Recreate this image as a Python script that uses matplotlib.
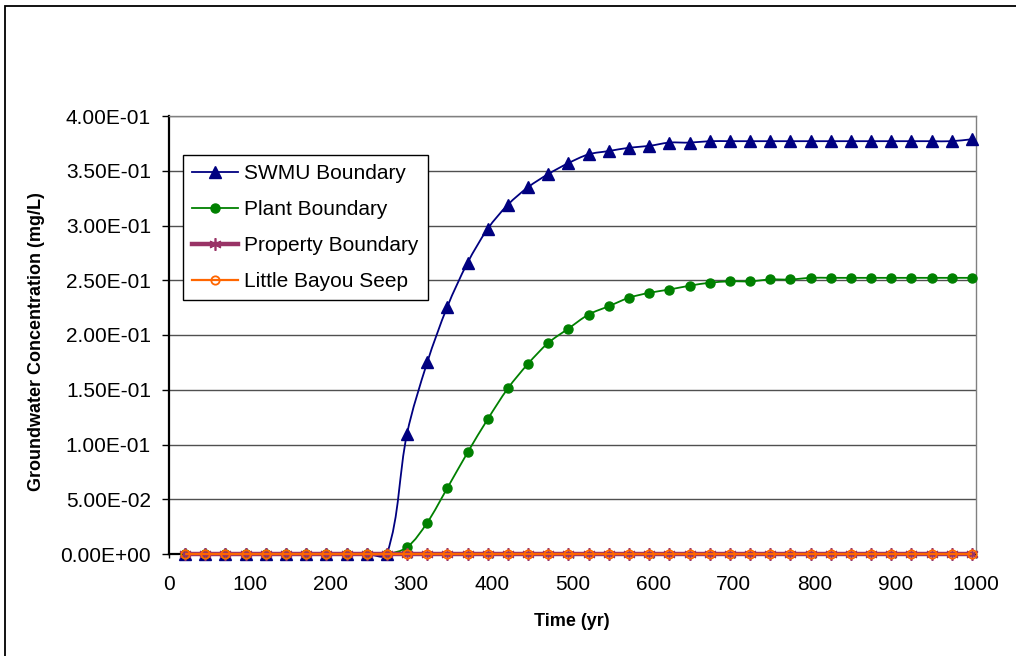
import numpy as np
import matplotlib
matplotlib.use('Agg')
import matplotlib.pyplot as plt
from matplotlib.path import Path
from matplotlib.patches import PathPatch, Rectangle
from matplotlib.lines import Line2D
from matplotlib.ticker import FuncFormatter

plt.rcParams['font.family'] = ['Liberation Sans', 'DejaVu Sans']

# ---------------- data ----------------
time_yr = list(range(20, 1000, 25))  # 40 points
swmu = [0.0] * 11 + [0.110, 0.175, 0.226, 0.266, 0.297, 0.319, 0.335, 0.347, 0.357,
                     0.365, 0.368, 0.371, 0.3727, 0.3757, 0.3757] + [0.377] * 13 + [0.3788]
plant = [0.0] * 11 + [0.0062, 0.0287, 0.0604, 0.0927, 0.1232, 0.1513, 0.1738, 0.1928, 0.2059,
                      0.2187, 0.2263, 0.2340, 0.2385, 0.2415, 0.2450, 0.2477, 0.2490, 0.2490,
                      0.2507, 0.2507] + [0.2522] * 9
prop = [0.0] * 40
seep = [0.0] * 40

labels = ['SWMU Boundary', 'Plant Boundary', 'Property Boundary', 'Little Bayou Seep']
x_ticks = list(range(0, 1001, 100))
y_ticks = [0.0, 0.05, 0.10, 0.15, 0.20, 0.25, 0.30, 0.35, 0.40]

# ---------------- figure ----------------
W, H = 1016, 656
fig = plt.figure(figsize=(W / 100, H / 100), dpi=100)
fig.patch.set_facecolor('white')
ax = fig.add_axes([169 / W, (H - 554) / H, (976 - 169) / W, (554 - 116) / H])
ax.set_xlim(0, 1000)
ax.set_ylim(0, 0.4)
ax.set_xticks(x_ticks)
ax.set_yticks(y_ticks)
ax.yaxis.set_major_formatter(FuncFormatter(lambda v, p: f'{v:.2E}'))
ax.grid(axis='y', color='#505050', lw=1.0)
ax.set_axisbelow(True)
for s in ['left', 'bottom']:
    ax.spines[s].set_color('black')
    ax.spines[s].set_linewidth(1.6)
    ax.spines[s].set_zorder(2)
for s in ['top', 'right']:
    ax.spines[s].set_color('#808080')
    ax.spines[s].set_linewidth(1.0)
ax.tick_params(axis='y', direction='out', length=5, width=1, pad=8, labelsize=15)
ax.tick_params(axis='x', direction='out', length=3, width=1, pad=12, labelsize=15)


def smooth_path(x, y):
    P = ax.transData.transform(np.column_stack([x, y]))
    n = len(P)
    T = np.zeros_like(P)
    T[1:-1] = P[2:] - P[:-2]
    T[0] = P[1] - P[0]
    T[-1] = P[-1] - P[-2]
    nr = np.linalg.norm(T, axis=1)
    U = T / np.where(nr > 0, nr, 1)[:, None]
    verts = [P[0]]
    codes = [Path.MOVETO]
    for i in range(n - 1):
        L = np.linalg.norm(P[i + 1] - P[i])
        c1 = P[i] + U[i] * L / 3
        c2 = P[i + 1] - U[i + 1] * L / 3
        verts += [c1, c2, P[i + 1]]
        codes += [Path.CURVE4] * 3
    verts = ax.transData.inverted().transform(np.array(verts))
    return Path(verts, codes)


styles = [
    dict(color='#000080', lw=1.3, marker='^', ms=8, mfc='#000080', mec='#000080', mew=1),
    dict(color='#008000', lw=1.3, marker='o', ms=6.5, mfc='#008000', mec='#008000', mew=1),
    dict(color='#993366', lw=3.2, marker=(6, 2, 0), ms=9, mfc='#993366', mec='#993366', mew=1.2),
    dict(color='#FF6600', lw=1.6, marker='o', ms=6, mfc='none', mec='#FF6600', mew=1.3),
]
series = [swmu, plant, prop, seep]

handles = []
for k, (yv, st) in enumerate(zip(series, styles)):
    z = 3 + k
    path = smooth_path(time_yr, yv)
    ax.add_patch(PathPatch(path, fill=False, edgecolor=st['color'], lw=st['lw'],
                           zorder=z, clip_on=False, capstyle='butt', joinstyle='round'))
    ax.plot(time_yr, yv, ls='none', marker=st['marker'], ms=st['ms'], mfc=st['mfc'],
            mec=st['mec'], mew=st['mew'], zorder=z + 0.5, clip_on=False)
    handles.append(Line2D([], [], color=st['color'], lw=st['lw'], marker=st['marker'],
                          ms=st['ms'], mfc=st['mfc'], mec=st['mec'], mew=st['mew']))

leg = ax.legend(handles, labels, loc='upper left', bbox_to_anchor=(183.3 / W, 1 - 155 / H),
                bbox_transform=fig.transFigure, borderaxespad=0, fontsize=15, frameon=True,
                fancybox=False, edgecolor='black', framealpha=1, handlelength=2.2,
                handletextpad=0.3, labelspacing=0.82, borderpad=0.43, numpoints=1)
leg.get_frame().set_linewidth(1.0)
leg.set_zorder(20)

fig.text(572 / W, 1 - 622 / H, 'Time (yr)', ha='center', va='center', fontsize=13,
         fontweight='bold')
fig.text(37 / W, 1 - 342 / H, 'Groundwater Concentration (mg/L)', ha='center', va='center',
         rotation=90, fontsize=13, fontweight='bold')

fig.add_artist(Rectangle((4.5 / W, -0.05), 1.2, (H - 6) / H + 0.05, transform=fig.transFigure,
                         fill=False, ec='black', lw=1.3))

fig.savefig('out.png', dpi=100)
